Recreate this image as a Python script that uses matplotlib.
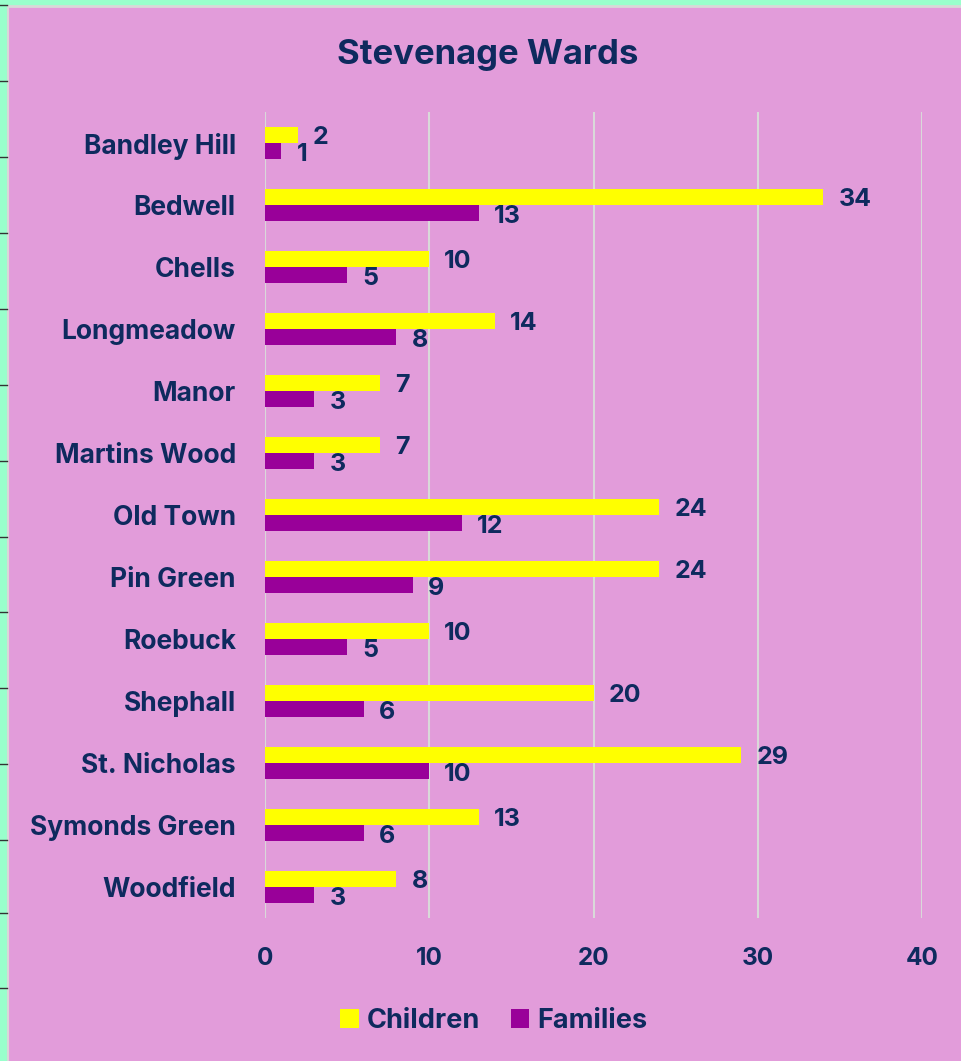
import matplotlib
matplotlib.use("Agg")
import matplotlib.pyplot as plt
from matplotlib.patches import Rectangle
from matplotlib.lines import Line2D
import numpy as np

wards = ["Bandley Hill", "Bedwell", "Chells", "Longmeadow", "Manor", "Martins Wood",
         "Old Town", "Pin Green", "Roebuck", "Shephall", "St. Nicholas",
         "Symonds Green", "Woodfield"]
children = [2, 34, 10, 14, 7, 7, 24, 24, 10, 20, 29, 13, 8]
families = [1, 13, 5, 8, 3, 3, 12, 9, 5, 6, 10, 6, 3]
x_ticks = [0, 10, 20, 30, 40]

W, H = 961, 1061
PINK = "#E29CDA"
GREEN = "#99FFCC"
NAVY = "#0E2A5E"
YELLOW = "#FFFF00"
PURPLE = "#990099"

plt.rcParams['font.family'] = ['Inter', 'DejaVu Sans']

fig = plt.figure(figsize=(W / 100, H / 100), dpi=100, facecolor=GREEN)
# chart area background
fig.patches.append(Rectangle((9 / W, 0), 1 - 9 / W, 1 - 7 / H, transform=fig.transFigure,
                             facecolor=PINK, edgecolor="none", zorder=-5))
fig.add_artist(Line2D([8 / W, 8 / W], [0, 1 - 7 / H], transform=fig.transFigure,
                      color="#D8D8D8", lw=1.5))
fig.add_artist(Line2D([8 / W, 1], [1 - 6 / H, 1 - 6 / H], transform=fig.transFigure,
                      color="#D8D8D8", lw=2))
for yp in [5, 81, 157, 233, 309, 385, 461, 537, 612, 688, 764, 840, 913, 988]:
    fig.add_artist(Line2D([0, 7 / W], [1 - yp / H, 1 - yp / H], transform=fig.transFigure,
                          color="#333333", lw=1))

left, right, top, bottom = 265, 922, 112, 918
ax = fig.add_axes([left / W, 1 - bottom / H, (right - left) / W, (bottom - top) / H])
ax.set_facecolor("none")
ax.set_zorder(5)

n = len(wards)
y = np.arange(n)
bh = 0.26
ax.barh(y - bh / 2, children, height=bh, color=YELLOW, label="Children", zorder=3)
ax.barh(y + bh / 2, families, height=bh, color=PURPLE, label="Families", zorder=3)

for i in range(n):
    ax.annotate(str(children[i]), (children[i], y[i] - bh / 2), xytext=(15, -3),
                textcoords="offset pixels", ha="left", va="center",
                fontsize=18, fontweight="bold", color=NAVY)
    ax.annotate(str(families[i]), (families[i], y[i] + bh / 2), xytext=(15, -3),
                textcoords="offset pixels", ha="left", va="center",
                fontsize=18, fontweight="bold", color=NAVY)

ax.set_xlim(0, 40)
ax.set_ylim(n - 0.5, -0.5)
ax.set_xticks(x_ticks)
ax.set_xticklabels([str(t) for t in x_ticks])
ax.set_yticks(y)
ax.set_yticklabels(wards)
ax.tick_params(axis="both", length=0, labelcolor=NAVY)
ax.tick_params(axis="y", pad=21, labelsize=19)
ax.tick_params(axis="x", pad=21, labelsize=17.5)
for lab in ax.get_xticklabels() + ax.get_yticklabels():
    lab.set_fontweight("bold")
for s in ax.spines.values():
    s.set_visible(False)
ax.grid(axis="x", color="#D9D9D9", lw=1.5, zorder=0)
ax.axvline(0, color="#D9D9D9", lw=1.5, zorder=1)

fig.text(488 / W, 1 - 55 / H, "Stevenage Wards", ha="center", va="center",
         fontsize=25, fontweight="bold", color=NAVY)

leg = fig.legend(loc="center", bbox_to_anchor=(494 / W, 1 - 1021 / H), ncol=2,
                 frameon=False, fontsize=19.5, handlelength=0.67, handleheight=0.67,
                 columnspacing=1.15, handletextpad=0.3)
for t in leg.get_texts():
    t.set_color(NAVY)
    t.set_fontweight("bold")

fig.savefig("out.png", dpi=100, facecolor=GREEN)
